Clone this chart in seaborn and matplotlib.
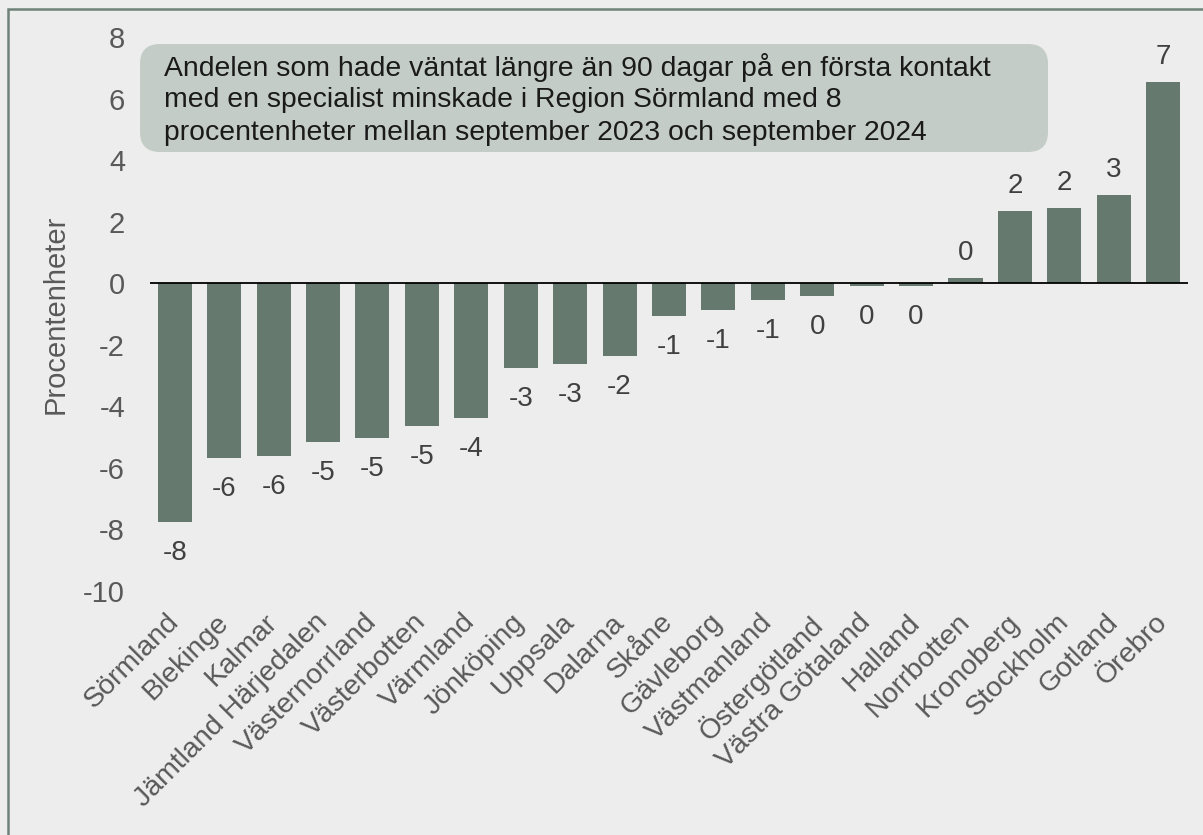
import matplotlib
matplotlib.use("Agg")
import matplotlib.pyplot as plt
import matplotlib.transforms as mtransforms
import seaborn as sns
from matplotlib.patches import FancyBboxPatch, Rectangle

# Data
regions = ["Sörmland", "Blekinge", "Kalmar", "Jämtland Härjedalen", "Västernorrland",
           "Västerbotten", "Värmland", "Jönköping", "Uppsala", "Dalarna", "Skåne",
           "Gävleborg", "Västmanland", "Östergötland", "Västra Götaland", "Halland",
           "Norrbotten", "Kronoberg", "Stockholm", "Gotland", "Örebro"]
change = [-7.76, -5.68, -5.62, -5.16, -5.03, -4.64, -4.38, -2.75, -2.62, -2.36, -1.06,
          -0.87, -0.54, -0.41, -0.09, -0.09, 0.16, 2.36, 2.43, 2.88, 6.53]
y_ticks = [-10, -8, -6, -4, -2, 0, 2, 4, 6, 8]
note_lines = ["Andelen som hade väntat längre än 90 dagar på en första kontakt",
              "med en specialist minskade i Region Sörmland med 8",
              "procentenheter mellan september 2023 och september 2024"]

bg = "#EDEDED"
bar_color = "#65796F"
box_color = "#C4CCC7"

sns.set_style("white", {"axes.facecolor": bg, "figure.facecolor": bg})
plt.rcParams["font.family"] = ["Liberation Sans", "DejaVu Sans"]

fig = plt.figure(figsize=(12.03, 8.35), dpi=100)
ax = fig.add_axes([0.1247, 0.2922, 0.8628, 0.6635])

sns.barplot(x=regions, y=change, color=bar_color, saturation=1, width=0.69,
            linewidth=0, ax=ax)
ax.axhline(0, color="black", lw=1.3, zorder=3)

ax.set_xlim(-0.5, 20.5)
ax.set_ylim(-10, 8)
ax.set_yticks(y_ticks)
ax.set_yticklabels([str(t) for t in y_ticks])
for s in ax.spines.values():
    s.set_visible(False)

ax.tick_params(axis="y", length=0, pad=18, labelsize=21, labelcolor="#595959")
ax.tick_params(axis="x", length=0, pad=13, labelsize=20.5, labelcolor="#595959")
shift = mtransforms.ScaledTranslation(-0.09, 0, fig.dpi_scale_trans)
for lab in ax.get_xticklabels():
    lab.set_rotation(45)
    lab.set_ha("right")
    lab.set_va("top")
    lab.set_rotation_mode("anchor")
    lab.set_transform(lab.get_transform() + shift)

ax.set_ylabel("Procentenheter", fontsize=21, color="#595959")
ax.yaxis.set_label_coords(-0.077, 0.5)

# data labels
for i, v in enumerate(change):
    off = -22.3 if v < 0 else 18
    ax.annotate(str(int(round(v))), (i, v), xytext=(0, off), textcoords="offset points",
                ha="center", va="center", fontsize=20, color="#404040")

# note box
box = FancyBboxPatch((1.40, 6.83), 9.08, 1.08, boxstyle="round,pad=0,rounding_size=0.2",
                     transform=fig.dpi_scale_trans, facecolor=box_color, edgecolor="none",
                     zorder=5)
fig.patches.append(box)
for k, line in enumerate(note_lines):
    fig.text(1.64 / 12.03, 1 - (67 + 33 * k) / 835, line, ha="left", va="center",
             fontsize=20.4, color="#1A1A1A", zorder=6)

# outer frame
fig.patches.append(Rectangle((8 / 1203, -0.05), 1.1, 1.05 - 9 / 835, transform=fig.transFigure,
                             fill=False, edgecolor="#6E8279", lw=1.8))

fig.savefig("out.png", dpi=100, facecolor=bg)
